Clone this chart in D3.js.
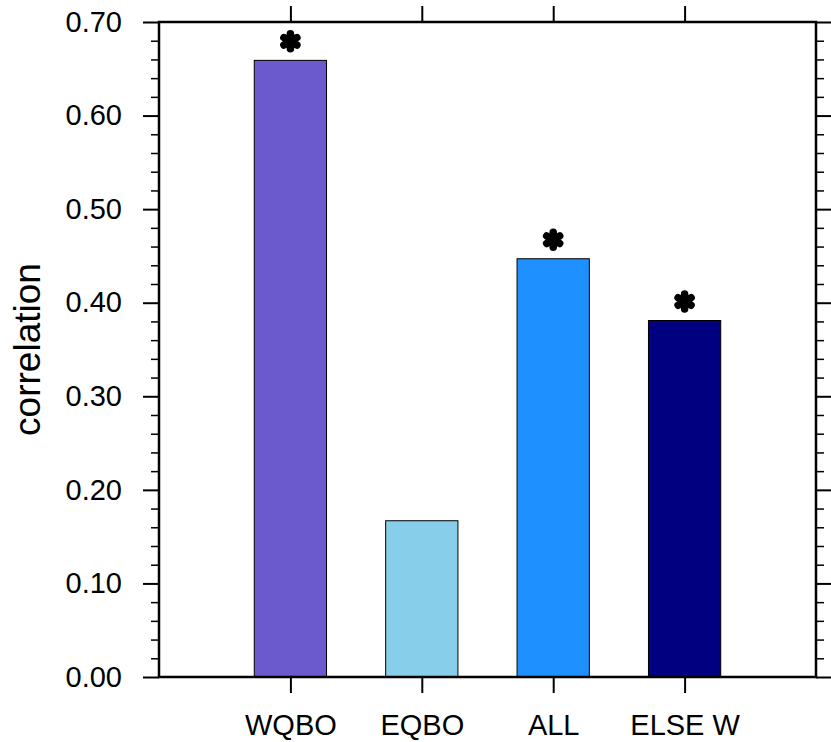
<!DOCTYPE html>
<html>
<head>
<meta charset="utf-8">
<script src="https://cdn.jsdelivr.net/npm/d3@7"></script>
<style>
html,body{margin:0;padding:0;background:#fff;}
text{font-family:"Liberation Sans",Arial,Helvetica,sans-serif;fill:#000;}
</style>
</head>
<body>
<svg id="chart" width="831" height="742"></svg>
<script>
const categories = ["WQBO", "EQBO", "ALL", "ELSE W"];
const values = [0.659, 0.167, 0.447, 0.381];
const significant = [true, false, true, true];
const barColors = ["#6A5ACD", "#87CEEB", "#1E90FF", "#000080"];
const yTicks = [0.0, 0.1, 0.2, 0.3, 0.4, 0.5, 0.6, 0.7];
const yLabel = "correlation";

const svg = d3.select("#chart");
const L = 159, R = 816, T = 22, B = 677;

const x = d3.scaleLinear().domain([0, 5]).range([L, R]);
const y = d3.scaleLinear().domain([0, 0.7]).range([B, T]);
const barW = 0.55;

// bars
svg.selectAll("rect.bar").data(values).enter().append("rect")
  .attr("class", "bar")
  .attr("x", (d, i) => x(i + 1 - barW / 2))
  .attr("width", (d, i) => x(i + 1 + barW / 2) - x(i + 1 - barW / 2))
  .attr("y", d => y(d))
  .attr("height", d => y(0) - y(d))
  .attr("fill", (d, i) => barColors[i])
  .attr("stroke", "#000")
  .attr("stroke-width", 1);

// asterisks
const star = svg.append("g");
values.forEach((v, i) => {
  if (!significant[i]) return;
  const cx = x(i + 1), cy = y(v) - 19;
  const g = star.append("g").attr("transform", `translate(${cx},${cy})`);
  [90, 30, 150].forEach(a => {
    const r = 7.5, rad = a * Math.PI / 180;
    g.append("line")
      .attr("x1", -r * Math.cos(rad)).attr("y1", -r * Math.sin(rad))
      .attr("x2", r * Math.cos(rad)).attr("y2", r * Math.sin(rad))
      .attr("stroke", "#000").attr("stroke-width", 7.5).attr("stroke-linecap", "round");
  });
});

// minor ticks
const minor = d3.range(0, 0.7001, 0.02).filter(v => Math.abs(v * 10 - Math.round(v * 10)) > 1e-6);

// left axis
const leftAxis = d3.axisLeft(y).tickValues(yTicks).tickFormat(d3.format(".2f")).tickSize(16).tickPadding(21);
const gl = svg.append("g").attr("transform", `translate(${L},0)`).call(leftAxis);
gl.select(".domain").remove();
gl.selectAll(".tick line").attr("stroke-width", 2);
gl.selectAll(".tick text").attr("font-size", 29).style("font-family", "Liberation Sans, Arial, sans-serif");
const glm = svg.append("g").attr("transform", `translate(${L},0)`).call(d3.axisLeft(y).tickValues(minor).tickSize(8).tickFormat(""));
glm.select(".domain").remove();
glm.selectAll(".tick line").attr("stroke-width", 1.5);

// right axis
const gr = svg.append("g").attr("transform", `translate(${R},0)`).call(d3.axisRight(y).tickValues(yTicks).tickSize(16).tickFormat(""));
gr.select(".domain").remove();
gr.selectAll(".tick line").attr("stroke-width", 2);
const grm = svg.append("g").attr("transform", `translate(${R},0)`).call(d3.axisRight(y).tickValues(minor).tickSize(8).tickFormat(""));
grm.select(".domain").remove();
grm.selectAll(".tick line").attr("stroke-width", 1.5);

// bottom axis
const bottomAxis = d3.axisBottom(x).tickValues([1, 2, 3, 4]).tickFormat((d, i) => categories[i]).tickSize(16).tickPadding(21);
const gb = svg.append("g").attr("transform", `translate(0,${B})`).call(bottomAxis);
gb.select(".domain").remove();
gb.selectAll(".tick line").attr("stroke-width", 2);
gb.selectAll(".tick text").attr("font-size", 29).style("font-family", "Liberation Sans, Arial, sans-serif");

// top axis
const gt = svg.append("g").attr("transform", `translate(0,${T})`).call(d3.axisTop(x).tickValues([1, 2, 3, 4]).tickSize(16).tickFormat(""));
gt.select(".domain").remove();
gt.selectAll(".tick line").attr("stroke-width", 2);

// frame
svg.append("rect").attr("x", L).attr("y", T).attr("width", R - L).attr("height", B - T)
  .attr("fill", "none").attr("stroke", "#000").attr("stroke-width", 2.5);

// y label
svg.append("text")
  .attr("transform", `translate(40,${(T + B) / 2}) rotate(-90)`)
  .attr("text-anchor", "middle")
  .attr("font-size", 37)
  .text(yLabel);
</script>
</body>
</html>
